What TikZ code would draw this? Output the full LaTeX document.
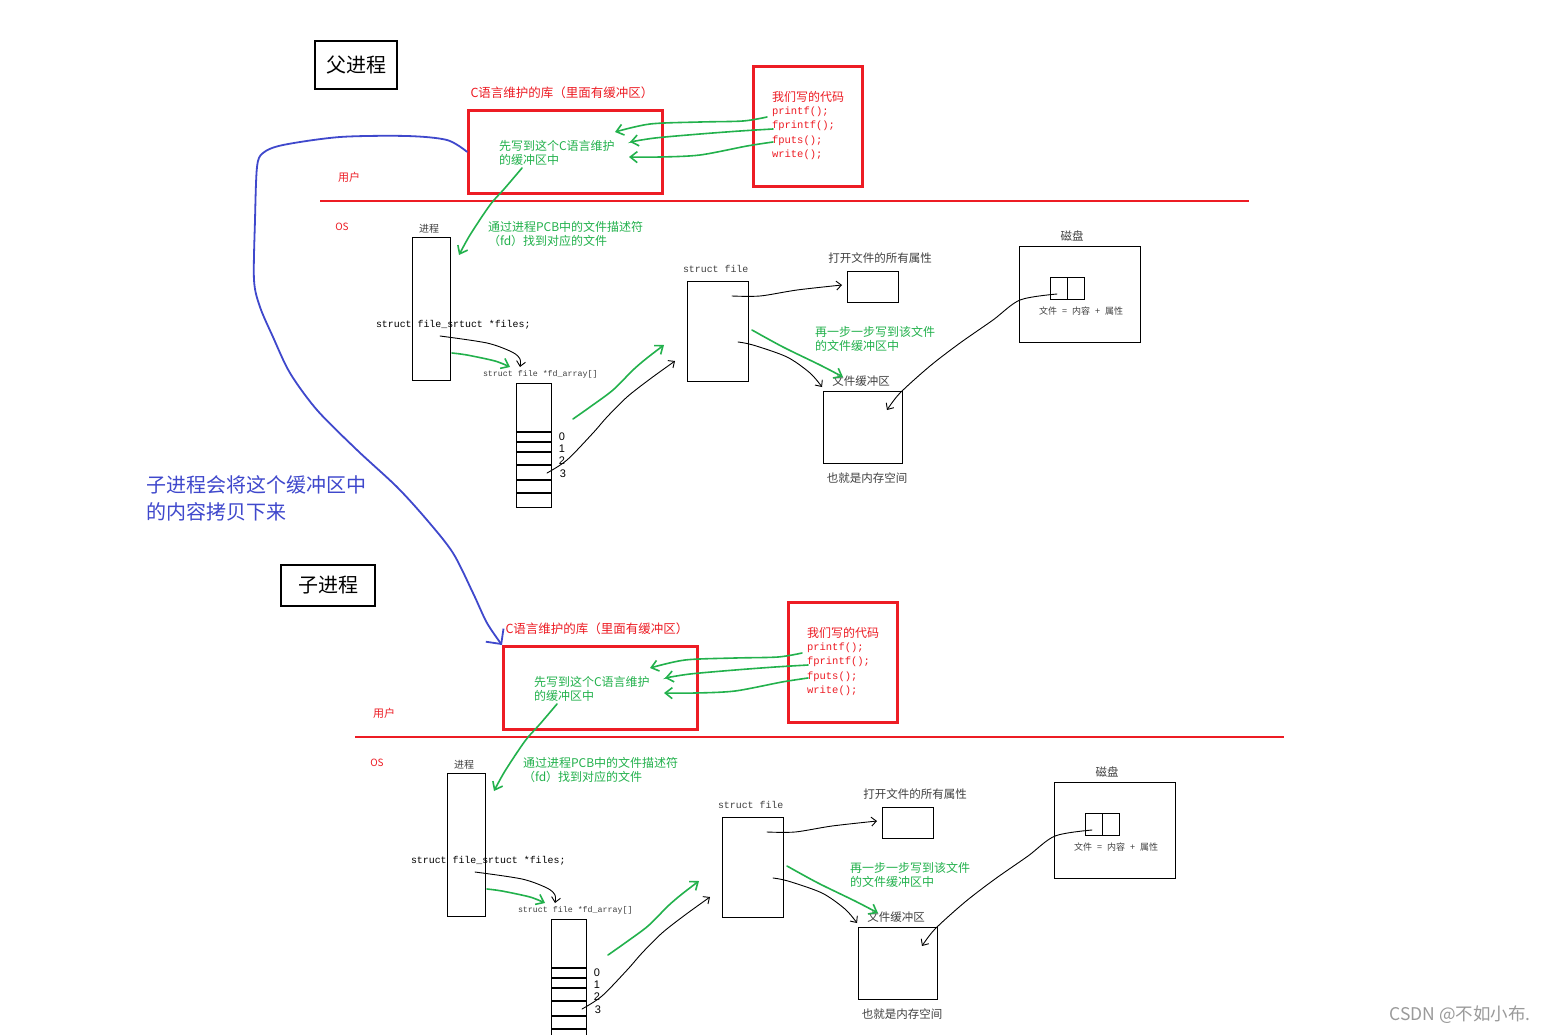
\documentclass[tikz,border=0pt]{standalone}
\usepackage{fontspec}
\setmainfont{Liberation Serif}
\setsansfont{Liberation Sans}
\newfontfamily\cjk{Noto Sans CJK SC}
\newfontfamily\mono{Liberation Mono}
\usetikzlibrary{arrows.meta}
\definecolor{pred}{HTML}{ED1C24}
\definecolor{pgreen}{HTML}{22B14C}
\definecolor{pblue}{HTML}{3F48CC}
\definecolor{tgray}{HTML}{404040}
\definecolor{wmgray}{HTML}{9A9A9A}
\newcommand{\myfs}[2]{\fontsize{#1}{#2}\selectfont}
\tikzset{
  lbl/.style={inner sep=0pt, outer sep=0pt},
  box/.style={draw=black, line width=1.3pt, inner sep=0pt},
  redbox/.style={draw=pred, line width=2.6pt, inner sep=0pt},
  titlebox/.style={draw=black, line width=2.8pt, inner sep=0pt, font=\cjk\myfs{20}{24}},
  redtxt/.style={lbl, text=pred, font=\cjk\myfs{12}{14}},
  greentxt/.style={lbl, text=pgreen, align=left, font=\cjk\myfs{12}{14}},
  graytxt/.style={lbl, text=tgray, font=\cjk\myfs{11.5}{14}},
  codetxt/.style={lbl, text=pred, anchor=west, font=\mono\myfs{10.5}{12}},
  monotxt/.style={lbl, text=black, anchor=west, font=\mono\myfs{9.9}{12}},
  digit/.style={lbl, text=black, font=\sffamily\myfs{11}{12}},
  garrow/.style={draw=pgreen, line width=1.6pt, line cap=round, -{Straight Barb[length=7pt,width=11pt]}},
  karrow/.style={draw=black, line width=0.9pt, line cap=round, -{Straight Barb[length=5pt,width=9pt]}},
  barrow/.style={draw=pblue, line width=1.8pt, line cap=round, -{Straight Barb[length=11pt,width=22pt]}},
}
\newcommand{\procblock}[1]{%
  % user space
  \node[redtxt, font=\cjk\myfs{12.5}{14}] (#1libt) at (562,93) {C语言维护的库（里面有缓冲区）};
  \node[redbox, anchor=north west, minimum width=194pt, minimum height=83pt] (#1lib) at (467,109) {};
  \node[greentxt, anchor=west] (#1libx) at (499,153) {先写到这个C语言维护\\的缓冲区中};
  \node[redbox, anchor=north west, minimum width=109pt, minimum height=120pt] (#1code) at (752,65) {};
  \node[redtxt, anchor=west] (#1codet) at (772,97) {我们写的代码};
  \node[codetxt] (#1la) at (772,112) {printf();};
  \node[codetxt] (#1lb) at (772,126) {fprintf();};
  \node[codetxt] (#1lc) at (772,141) {fputs();};
  \node[codetxt] (#1ld) at (772,155) {write();};
  \node[redtxt, font=\cjk\myfs{11}{12}] (#1user) at (349,177) {用户};
  \node[redtxt, font=\cjk\myfs{10}{12}] (#1os) at (342,227) {OS};
  \coordinate (#1rl) at (320,201);
  \coordinate (#1rr) at (1249,201);
  \draw[pred, line width=2pt] (#1rl) -- (#1rr);
  % green arrows code -> library
  \coordinate (#1s1) at (767,117); \coordinate (#1e1) at (615,132);
  \coordinate (#1s2) at (773,129); \coordinate (#1e2) at (630,142);
  \coordinate (#1s3) at (773,142); \coordinate (#1e3) at (629,157);
  \draw[garrow] plot[smooth] coordinates {(#1s1) (743,121) (700,122) (650,124) (#1e1)};
  \draw[garrow] plot[smooth] coordinates {(#1s2) (740,131) (700,134) (655,138) (#1e2)};
  \draw[garrow] plot[smooth] coordinates {(#1s3) (747,146) (700,155) (660,157) (#1e3)};
  % OS space
  \node[greentxt, anchor=north west] (#1pcb) at (488,221) {通过进程PCB中的文件描述符\\（fd）找到对应的文件};
  \node[graytxt, font=\cjk\myfs{10}{12}] (#1proct) at (429,229) {进程};
  \node[box, anchor=north west, minimum width=38pt, minimum height=143pt] (#1proc) at (412,237) {};
  \node[monotxt] (#1files) at (376,325) {struct file\_srtuct *files;};
  \node[lbl, text=tgray, anchor=west, font=\mono\myfs{8.3}{10}] (#1fdt) at (483,374) {struct file *fd\_array[]};
  \node[box, anchor=north west, minimum width=35pt, minimum height=124pt] (#1fd) at (516,383) {};
  \foreach \yy in {432,442,452,465,480,493}
    \draw[line width=1.3pt] (#1fd.west |- 0,\yy) -- (#1fd.east |- 0,\yy);
  \node[digit] (#1d0) at (562,437) {0};
  \node[digit] (#1d1) at (562,449) {1};
  \node[digit] (#1d2) at (562,461) {2};
  \node[digit] (#1d3) at (563,474) {3};
  \node[monotxt, text=tgray] (#1sft) at (683,269) {struct file};
  \node[box, anchor=north west, minimum width=61pt, minimum height=100pt] (#1sf) at (687,281) {};
  \node[graytxt] (#1attrt) at (880,258) {打开文件的所有属性};
  \node[box, anchor=north west, minimum width=51pt, minimum height=31pt] (#1attr) at (847,271) {};
  \node[greentxt, anchor=west] (#1step) at (815,339) {再一步一步写到该文件\\的文件缓冲区中};
  \node[graytxt] (#1buft) at (861,381) {文件缓冲区};
  \node[box, anchor=north west, minimum width=79pt, minimum height=72pt] (#1buf) at (823,391) {};
  \node[graytxt] (#1mem) at (867,478) {也就是内存空间};
  \node[graytxt] (#1diskt) at (1072,236) {磁盘};
  \node[box, anchor=north west, minimum width=121pt, minimum height=96pt] (#1disk) at (1019,246) {};
  \node[box, anchor=north west, minimum width=34pt, minimum height=22pt] (#1fil) at (1050,277) {};
  \draw[line width=1.3pt] (#1fil.north) -- (#1fil.south);
  \node[lbl, text=tgray, font=\cjk\myfs{9}{10}] (#1fileq) at (1081,311) {文件\hspace{5pt}=\hspace{5pt}内容\hspace{5pt}+\hspace{5pt}属性};
  % connectors in OS space
  \coordinate (#1sB) at (522,168); \coordinate (#1eB) at (459,255);
  \draw[garrow] plot[smooth] coordinates {(#1sB) (505,188) (490,205) (470,235) (#1eB)};
  \coordinate (#1sC) at (440,336); \coordinate (#1eC) at (520,367);
  \draw[karrow] plot[smooth] coordinates {(#1sC) (487,343) (512,352) (520,359) (#1eC)};
  \coordinate (#1sCg) at (452,353); \coordinate (#1eCg) at (510,367);
  \draw[garrow] plot[smooth] coordinates {(#1sCg) (467,355) (495,361) (#1eCg)};
  \coordinate (#1sD) at (547,473); \coordinate (#1eD) at (675,361);
  \draw[karrow] plot[smooth] coordinates {(#1sD) (567,460) (593,433) (607,417) (627,397) (650,379) (#1eD)};
  \coordinate (#1sDg) at (573,419); \coordinate (#1eDg) at (664,345);
  \draw[garrow] plot[smooth] coordinates {(#1sDg) (590,407) (613,390) (633,370) (647,358) (#1eDg)};
  \coordinate (#1sE) at (732,296); \coordinate (#1eE) at (842,285);
  \draw[karrow] plot[smooth] coordinates {(#1sE) (760,296) (797,290) (#1eE)};
  \coordinate (#1sF) at (738,342); \coordinate (#1eF) at (822,387);
  \draw[karrow] plot[smooth] coordinates {(#1sF) (753,345) (787,357) (810,373) (#1eF)};
  \coordinate (#1sFg) at (752,330); \coordinate (#1eFg) at (843,377);
  \draw[garrow] plot[smooth] coordinates {(#1sFg) (783,347) (820,365) (#1eFg)};
  \coordinate (#1sG) at (1057,294); \coordinate (#1eG) at (887,410);
  \draw[karrow] plot[smooth] coordinates {(#1sG) (1020,300) (993,320) (960,343) (930,366) (900,393) (#1eG)};
}
\begin{document}
\begin{tikzpicture}[x=1pt, y=-1pt]
  \useasboundingbox (0,0) rectangle (1549,1034);
  \clip (0,0) rectangle (1549,1034);
  \fill[white] (0,0) rectangle (1549,1034);
  \begin{scope}
    \procblock{p}
  \end{scope}
  \begin{scope}[shift={(35,536)}]
    \procblock{c}
  \end{scope}
  \node[titlebox, minimum width=82pt, minimum height=48pt] (parent) at (356,65) {父进程};
  \node[titlebox, minimum width=94pt, minimum height=41pt] (child) at (328,585.5) {子进程};
  \node[lbl, text=pblue, align=left, anchor=north west, font=\cjk\myfs{20}{27}] (note) at (146,476) {子进程会将这个缓冲区中\\的内容拷贝下来};
  \draw[barrow] plot[smooth] coordinates {(plib.west) (447,140) (407,136) (340,137) (283,145) (263,153) (257,167) (255,220) (254,280) (260,307) (273,337) (290,373) (317,410) (357,450) (397,487) (427,520) (453,553) (473,593) (487,623) (clib.north west)};
  \node[lbl, text=wmgray, font=\cjk\myfs{17.5}{20}] (wm) at (1460,1015) {CSDN @不如小布.};
\end{tikzpicture}
\end{document}
